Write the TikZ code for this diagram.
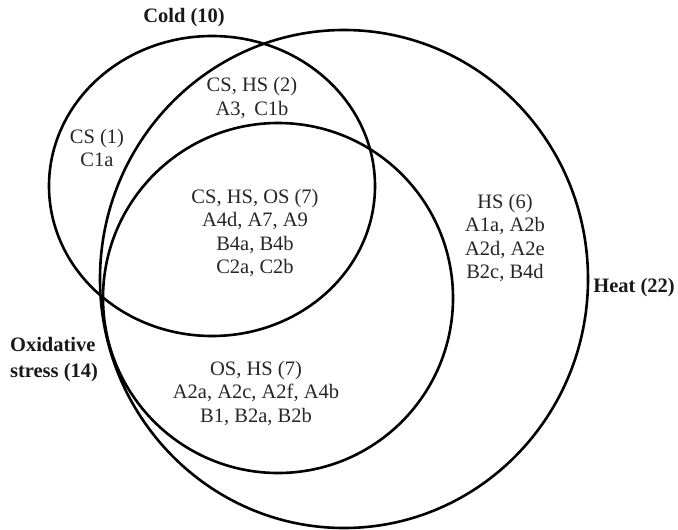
\documentclass[tikz,border=0pt]{standalone}
\usepackage{fontspec}
\setmainfont{Liberation Serif}
\begin{document}
\begin{tikzpicture}[x=1pt,y=-1pt,
  ring/.style={line width=2.6pt, black},
  lbl/.style={align=center, inner sep=0pt, font=\fontsize{20.5}{23.5}\selectfont, text=black!85},
  setname/.style={inner sep=0pt, font=\fontsize{20.5}{26}\bfseries\selectfont, text=black!90}]
\useasboundingbox (0,0) rectangle (678,530);
% sets
\draw[ring] (344,279) ellipse [x radius=244pt, y radius=249pt];
\draw[ring] (212,186) ellipse [x radius=163pt, y radius=150pt];
\draw[ring] (278,298) circle [radius=175pt];
% set names
\node[setname] (cold) at (184,18) {Cold (10)};
\node[setname] (heat) at (634,288) {Heat (22)};
\node[setname, align=left, font=\fontsize{20.5}{26}\bfseries\selectfont] (ox) at (54,360) {Oxidative\\stress (14)};
% regions
\node[lbl] (cs) at (97,148) {CS (1)\\C1a};
\node[lbl] (cshs) at (252,98) {CS, HS (2)\\A3,\, C1b};
\node[lbl] (all) at (255,233) {CS, HS, OS (7)\\A4d, A7, A9\\B4a, B4b\\C2a, C2b};
\node[lbl] (hs) at (505,238) {HS (6)\\A1a, A2b\\A2d, A2e\\B2c, B4d};
\node[lbl] (oshs) at (256,393) {OS, HS (7)\\A2a, A2c, A2f, A4b\\B1, B2a, B2b};
\end{tikzpicture}
\end{document}
